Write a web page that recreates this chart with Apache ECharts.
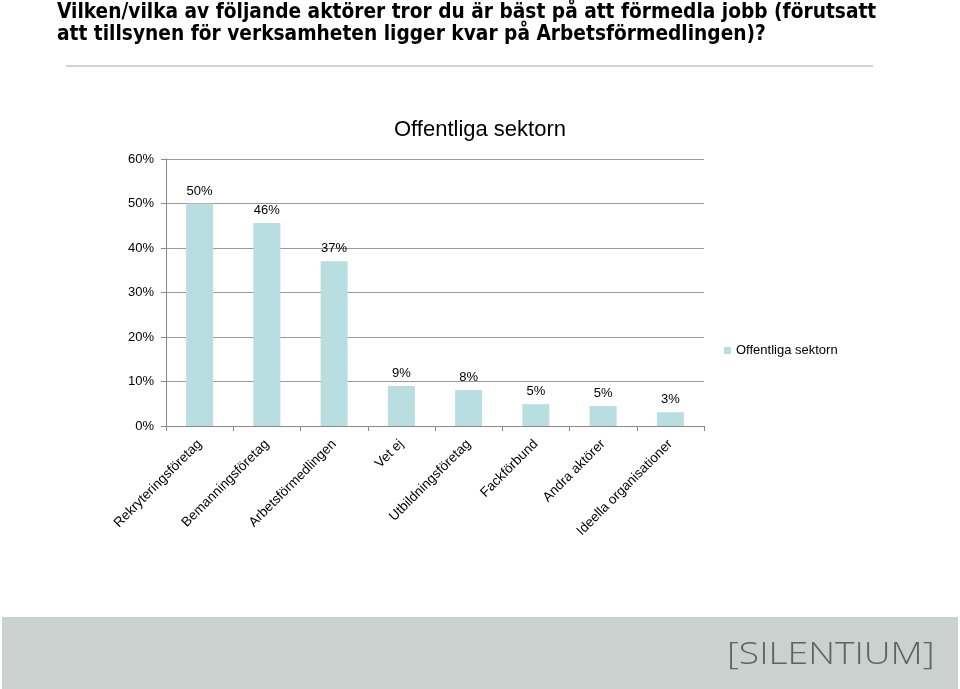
<!DOCTYPE html>
<html><head><meta charset="utf-8">
<script src="https://cdn.jsdelivr.net/npm/echarts@6/dist/echarts.min.js"></script>
<style>html,body{margin:0;padding:0;background:#fff}#c{width:960px;height:689px}</style>
</head><body><div id="c"></div>
<script>
const headerLines = [
  "Vilken/vilka av följande aktörer tror du är bäst på att förmedla jobb (förutsatt",
  "att tillsynen för verksamheten ligger kvar på Arbetsförmedlingen)?"
];
const chartTitle = "Offentliga sektorn";
const seriesName = "Offentliga sektorn";
const categories = ["Rekryteringsföretag","Bemanningsföretag","Arbetsförmedlingen","Vet ej","Utbildningsföretag","Fackförbund","Andra aktörer","Ideella organisationer"];
const values = [50, 45.6, 37, 9, 8.1, 4.9, 4.5, 3.1];
const yTicks = [0, 10, 20, 30, 40, 50, 60];
const logoText = "[SILENTIUM]";

const chart = echarts.init(document.getElementById('c'));
chart.setOption({
  backgroundColor: '#fff',
  animation: false,
  title: {
    text: chartTitle, left: 'center', top: 114,
    textStyle: { fontFamily: 'Liberation Sans', fontSize: 22, fontWeight: 'normal', color: '#000' }
  },
  legend: {
    left: 719, top: 339, itemWidth: 7, itemHeight: 7, itemGap: 4,
    icon: 'rect',
    textStyle: { fontFamily: 'Liberation Sans', fontSize: 13, color: '#000' },
    data: [seriesName]
  },
  grid: { left: 166, right: 256, top: 159, bottom: 263, containLabel: false },
  xAxis: {
    type: 'category', data: categories,
    axisLine: { lineStyle: { color: '#888', width: 1 } },
    axisTick: { show: true, alignWithLabel: false, length: 5, lineStyle: { color: '#888' } },
    axisLabel: { rotate: 45, interval: 0, margin: 16, fontFamily: 'Liberation Sans', fontSize: 13.5, color: '#000' }
  },
  yAxis: {
    type: 'value', min: 0, max: 60, interval: 10,
    axisLine: { show: true, lineStyle: { color: '#888' } },
    axisTick: { show: true, length: 5, lineStyle: { color: '#888' } },
    splitLine: { lineStyle: { color: '#999', width: 1 } },
    axisLabel: { formatter: v => yTicks.includes(v) ? v + '%' : '', margin: 12, fontFamily: 'Liberation Sans', fontSize: 13, color: '#000' }
  },
  series: [{
    name: seriesName, type: 'bar', data: values, barWidth: 27,
    itemStyle: { color: '#b9dee2' },
    label: { show: true, position: 'top', distance: 6, formatter: p => Math.round(p.value) + '%',
      fontFamily: 'Liberation Sans', fontSize: 13, color: '#000' }
  }],
  graphic: [
    { type: 'text', left: 57, top: 2, style: { text: headerLines.join('\n'), font: 'bold 20.7px "DejaVu Sans Condensed"', lineHeight: 22, fill: '#000' } },
    { type: 'rect', shape: { x: 66, y: 65, width: 807, height: 2 }, style: { fill: '#d4d4d4' } },
    { type: 'rect', shape: { x: 2, y: 617, width: 956, height: 72 }, style: { fill: '#cbd1ce' } },
    { type: 'text', x: 727, y: 640, scaleX: 1.2, style: { text: logoText, font: '300 31px "Open Sans"', fill: '#5d6360' } }
  ]
});
</script></body></html>
